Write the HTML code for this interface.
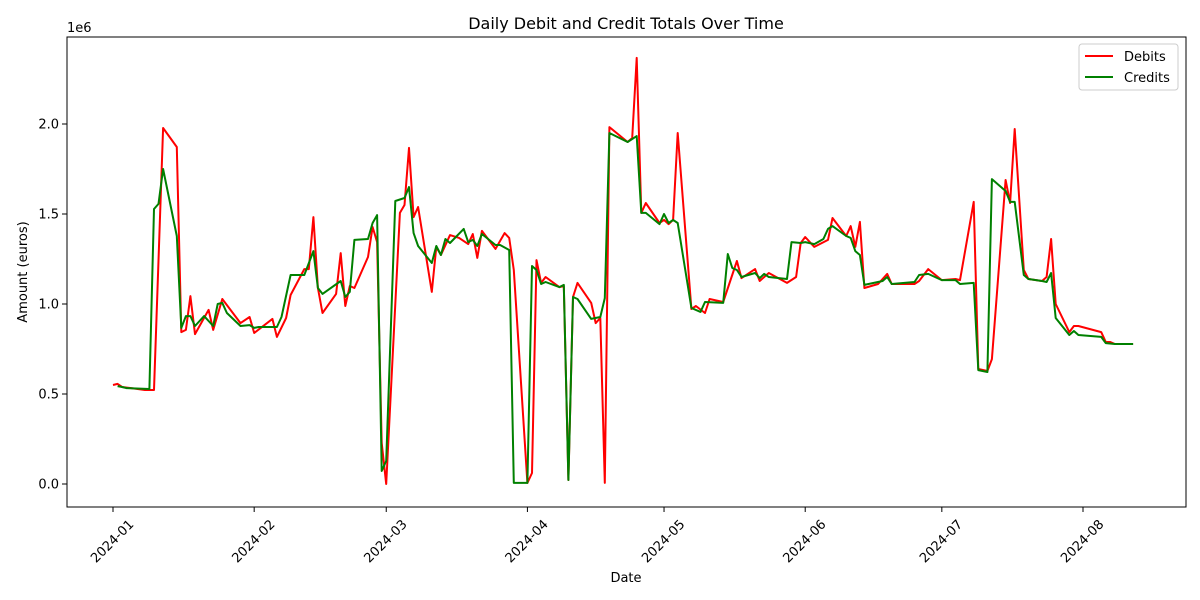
<!DOCTYPE html>
<html><head><meta charset="utf-8"><style>
body{margin:0;background:#fff}
svg{display:block;font-family:"DejaVu Sans","Liberation Sans",sans-serif}
</style></head><body>
<svg id="chart" width="1200" height="600" viewBox="0 0 1200 600">
<rect width="1200" height="600" fill="#fff"/>
<text x="626" y="29" text-anchor="middle" font-size="16">Daily Debit and Credit Totals Over Time</text>
<text x="626" y="582" text-anchor="middle" font-size="13">Date</text>
<text transform="translate(27,272) rotate(-90)" text-anchor="middle" font-size="13">Amount (euros)</text>
<text x="67" y="32" font-size="13">1e6</text>
<g id="marks"></g>
<rect x="67" y="37" width="1119" height="470" fill="none" stroke="#000" stroke-width="1"/>
<g>
<rect x="1079" y="44" width="99" height="46" rx="3" fill="#fff" fill-opacity="0.8" stroke="#ccc"/>
<line x1="1085" y1="56" x2="1113" y2="56" stroke="red" stroke-width="2"/>
<text x="1124" y="61" font-size="13">Debits</text>
<line x1="1085" y1="77" x2="1113" y2="77" stroke="green" stroke-width="2"/>
<text x="1124" y="82" font-size="13">Credits</text>
</g>
</svg>
<script>
const monthLabels=["2024-01","2024-02","2024-03","2024-04","2024-05","2024-06","2024-07","2024-08"];
const monthDays=[0,31,60,91,121,152,182,213];
const yTicks=[0,0.5,1.0,1.5,2.0];
const debitDays=[0,1,2,4,7,9,11,14,15,16,17,18,21,22,24,28,30,31,35,36,38,39,42,43,44,45,46,49,50,51,52,53,56,57,58,59,60,63,64,65,66,67,70,71,72,74,76,78,79,80,81,84,86,87,88,91,92,93,94,95,98,99,100,101,102,105,106,107,108,109,113,114,115,116,117,120,121,122,123,124,127,128,130,131,134,137,138,141,142,144,148,150,151,152,154,157,158,161,162,163,164,165,168,170,171,176,177,179,182,185,186,189,190,192,193,196,197,198,200,201,204,205,206,207,210,211,212,217,218,219,220,224];
const debitVals=[.55,.556,.539,.533,.522,.522,1.978,1.872,.844,.856,1.044,.833,.967,.856,1.028,.894,.928,.839,.917,.817,.922,1.05,1.194,1.194,1.483,1.089,.95,1.056,1.283,.989,1.1,1.089,1.261,1.428,1.344,.228,0,1.506,1.55,1.867,1.483,1.539,1.067,1.317,1.272,1.383,1.367,1.333,1.389,1.256,1.406,1.306,1.394,1.367,1.189,.006,.061,1.244,1.117,1.15,1.094,1.1,.022,1.039,1.117,1.006,.894,.922,.006,1.983,1.9,1.922,2.367,1.506,1.561,1.45,1.467,1.444,1.467,1.95,.972,.989,.95,1.028,1.011,1.239,1.144,1.194,1.128,1.172,1.117,1.15,1.339,1.372,1.317,1.356,1.478,1.378,1.433,1.317,1.456,1.089,1.111,1.167,1.111,1.111,1.128,1.194,1.133,1.139,1.133,1.567,.639,.628,.694,1.689,1.561,1.972,1.189,1.139,1.128,1.15,1.361,1.0,.844,.878,.878,.844,.789,.789,.778,.778];
const creditDays=[1,2,3,8,9,10,11,14,15,16,17,18,20,22,23,24,25,28,30,31,32,36,37,39,42,44,45,46,50,51,52,53,56,57,58,59,60,62,64,65,66,67,70,71,72,73,74,77,78,79,80,81,84,85,87,88,91,92,93,94,95,98,99,100,101,102,105,107,108,109,113,115,116,117,120,121,122,123,124,127,129,130,134,135,136,137,138,141,142,143,144,148,149,151,152,154,156,157,158,161,162,163,164,165,169,170,171,176,177,179,182,185,186,189,190,192,193,196,197,198,200,201,204,205,206,207,210,211,212,217,218,220,224];
const creditVals=[.544,.539,.533,.528,1.528,1.556,1.75,1.378,.867,.933,.933,.878,.933,.878,1.0,1.006,.95,.878,.883,.867,.872,.872,.928,1.161,1.161,1.294,1.089,1.056,1.128,1.039,1.067,1.356,1.361,1.45,1.494,.072,.128,1.572,1.589,1.65,1.394,1.322,1.228,1.322,1.272,1.361,1.339,1.417,1.344,1.356,1.322,1.389,1.328,1.328,1.3,.006,.006,1.211,1.189,1.111,1.122,1.094,1.106,.022,1.039,1.028,.917,.928,1.033,1.95,1.9,1.933,1.506,1.506,1.444,1.5,1.45,1.467,1.45,.978,.956,1.011,1.006,1.278,1.2,1.189,1.15,1.172,1.144,1.167,1.15,1.139,1.344,1.339,1.344,1.333,1.361,1.417,1.433,1.378,1.367,1.294,1.272,1.106,1.128,1.15,1.111,1.122,1.161,1.167,1.133,1.133,1.111,1.117,.633,.622,1.694,1.628,1.567,1.567,1.161,1.139,1.128,1.122,1.172,.922,.828,.85,.828,.817,.783,.778,.778];

const NS="http://www.w3.org/2000/svg";
const g=document.getElementById('marks');
function xScale(d){return 113+d*4.554;}
function yScale(v){return 484-v*180;}
function mk(t,a){const e=document.createElementNS(NS,t);for(const k in a)e.setAttribute(k,a[k]);g.appendChild(e);return e;}
yTicks.forEach(v=>{
  const y=yScale(v);
  const t=mk('line',{x1:62,x2:67,y1:y,y2:y,stroke:'#000'});
  
  
  const l=mk('text',{x:59,y:y+4.5,'text-anchor':'end','font-size':13});
  l.textContent=v.toFixed(1);
  
  
});
monthDays.forEach((d,i)=>{
  const x=xScale(d);
  const t=mk('line',{x1:x,x2:x,y1:507,y2:512,stroke:'#000'});
  
  
  const l=mk('text',{'text-anchor':'middle','font-size':13,transform:`translate(${x-1},${541}) rotate(-45)`,dy:'0.35em'});
  l.textContent=monthLabels[i];
  
  
});
function line(days,vals,color,name){
  const p=mk('polyline',{points:days.map((d,i)=>xScale(d).toFixed(1)+','+yScale(vals[i]).toFixed(1)).join(' '),fill:'none',stroke:color,'stroke-width':2,'stroke-linejoin':'round'});
  
  
}
line(debitDays,debitVals,'red','debits-line');
line(creditDays,creditVals,'green','credits-line');
</script>
</body></html>
